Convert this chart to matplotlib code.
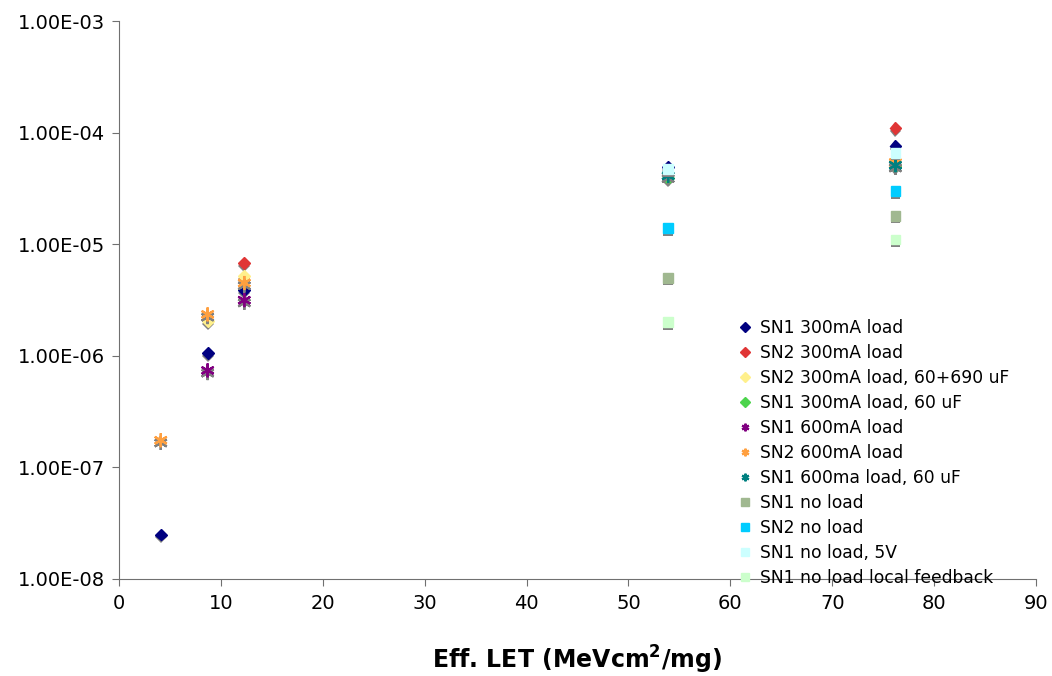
import numpy as np
import matplotlib
matplotlib.use("Agg")
import matplotlib.pyplot as plt
import matplotlib.patheffects as pe
from matplotlib.ticker import FixedLocator, FuncFormatter

# --- data ---
sn1_300_x = [4.1, 8.7, 12.3, 53.9, 76.2]
sn1_300_y = [2.5e-8, 1.06e-6, 3.9e-6, 4.9e-5, 7.6e-5]

sn2_300_x = [12.3, 76.2]
sn2_300_y = [6.8e-6, 1.1e-4]

sn2_300_cap_x = [8.7, 12.3]
sn2_300_cap_y = [2.05e-6, 5.2e-6]

sn1_300_60_x = [53.9, 76.2]
sn1_300_60_y = [3.9e-5, 5.0e-5]

sn1_600_x = [8.7, 12.3]
sn1_600_y = [7.4e-7, 3.15e-6]

sn2_600_x = [4.1, 8.7, 12.3, 76.2]
sn2_600_y = [1.75e-7, 2.35e-6, 4.5e-6, 5.4e-5]

sn1_600_60_x = [53.9, 76.2]
sn1_600_60_y = [4.1e-5, 5.1e-5]

sn1_noload_x = [53.9, 76.2]
sn1_noload_y = [5.0e-6, 1.8e-5]

sn2_noload_x = [53.9, 76.2]
sn2_noload_y = [1.4e-5, 3.0e-5]

sn1_noload_5v_x = [53.9, 76.2]
sn1_noload_5v_y = [4.7e-5, 6.6e-5]

sn1_noload_fb_x = [53.9, 76.2]
sn1_noload_fb_y = [2.0e-6, 1.1e-5]

series = [
    ("SN1 300mA load", sn1_300_x, sn1_300_y, "D", "#000080"),
    ("SN2 300mA load", sn2_300_x, sn2_300_y, "D", "#E03535"),
    ("SN2 300mA load, 60+690 uF", sn2_300_cap_x, sn2_300_cap_y, "D", "#FFF08C"),
    ("SN1 300mA load, 60 uF", sn1_300_60_x, sn1_300_60_y, "D", "#4CD44C"),
    ("SN1 600mA load", sn1_600_x, sn1_600_y, "star", "#800080"),
    ("SN2 600mA load", sn2_600_x, sn2_600_y, "star", "#FFA040"),
    ("SN1 600ma load, 60 uF", sn1_600_60_x, sn1_600_60_y, "star", "#008080"),
    ("SN1 no load", sn1_noload_x, sn1_noload_y, "s", "#A0B890"),
    ("SN2 no load", sn2_noload_x, sn2_noload_y, "s", "#00CCFF"),
    ("SN1 no load, 5V", sn1_noload_5v_x, sn1_noload_5v_y, "s", "#CCFFFF"),
    ("SN1 no load local feedback", sn1_noload_fb_x, sn1_noload_fb_y, "s", "#CCFFCC"),
]

fig = plt.figure(figsize=(10.52, 6.76), dpi=100)
ax = fig.add_axes([0.1131, 0.1435, 0.8717, 0.8254])

shadow = [pe.SimplePatchShadow(offset=(0, -2), shadow_rgbFace="#808080", alpha=1.0), pe.Normal()]

for label, xs, ys, m, c in series:
    if m == "star":
        ax.plot(xs, ys, linestyle="none", marker=(6, 2, 0), markersize=10,
                markeredgecolor=c, markeredgewidth=1.6, color=c, label=label,
                path_effects=[pe.Stroke(linewidth=1.6, foreground="#808080", offset=(0, -2)), pe.Normal()])
    elif m == "D":
        ax.plot(xs, ys, linestyle="none", marker="D", markersize=6,
                markerfacecolor=c, markeredgecolor=c, label=label, path_effects=shadow)
    else:
        ax.plot(xs, ys, linestyle="none", marker="s", markersize=7,
                markerfacecolor=c, markeredgecolor=c, label=label, path_effects=shadow)

ax.set_yscale("log")
ax.set_ylim(1e-8, 1e-3)
ax.set_xlim(0, 90)
ax.set_xticks(np.arange(0, 91, 10))
ax.yaxis.set_major_locator(FixedLocator([10.0 ** k for k in range(-8, -2)]))
ax.yaxis.set_minor_locator(FixedLocator([]))
ax.yaxis.set_major_formatter(FuncFormatter(lambda v, p: "%.2fE-%02d" % (1.0, -int(round(np.log10(v))))))

for s in ["top", "right"]:
    ax.spines[s].set_visible(False)
for s in ["left", "bottom"]:
    ax.spines[s].set_color("#707070")
ax.tick_params(axis="both", which="major", labelsize=14, length=5, color="#707070", direction="out")
ax.tick_params(axis="y", pad=5)
ax.tick_params(axis="x", pad=6)

ax.set_xlabel(r"Eff. LET (MeVcm$^{\mathbf{2}}$/mg)", fontsize=17, fontweight="bold", labelpad=22)

leg = fig.legend(loc="upper left", bbox_to_anchor=(0.692, 0.538), frameon=False,
                 fontsize=12.3, labelspacing=0.41, handletextpad=0.3, handlelength=1.2,
                 borderaxespad=0)
for h in leg.legend_handles:
    h.set_path_effects([])
    h.set_markersize(5.5)
leg.set_zorder(5)

fig.savefig("out.png", dpi=100)
